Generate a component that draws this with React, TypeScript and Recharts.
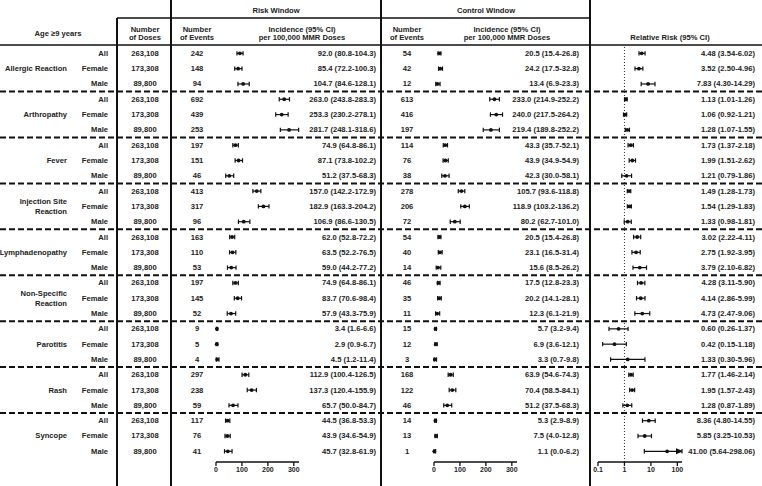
import React from 'react';
import { ScatterChart, Scatter, XAxis, YAxis, ErrorBar, ReferenceLine } from 'recharts';

// ---------- data ----------
const groupLabels: string[][] = [
  ['Allergic Reaction'],
  ['Arthropathy'],
  ['Fever'],
  ['Injection Site', 'Reaction'],
  ['Lymphadenopathy'],
  ['Non-Specific', 'Reaction'],
  ['Parotitis'],
  ['Rash'],
  ['Syncope'],
];
const sexLabels = ['All', 'Female', 'Male'];
const doses = [263108, 173308, 89800];

const riskEvents = [242, 148, 94, 692, 439, 253, 197, 151, 46, 413, 317, 96, 163, 110, 53, 197, 145, 52, 9, 5, 4, 297, 238, 59, 117, 76, 41];
const controlEvents = [54, 42, 12, 613, 416, 197, 114, 76, 38, 278, 206, 72, 54, 40, 14, 46, 35, 11, 15, 12, 3, 168, 122, 46, 14, 13, 1];

// [estimate, lower, upper] per 100,000 doses
const riskIncidence: number[][] = [
  [92.0, 80.8, 104.3], [85.4, 72.2, 100.3], [104.7, 84.6, 128.1],
  [263.0, 243.8, 283.3], [253.3, 230.2, 278.1], [281.7, 248.1, 318.6],
  [74.9, 64.8, 86.1], [87.1, 73.8, 102.2], [51.2, 37.5, 68.3],
  [157.0, 142.2, 172.9], [182.9, 163.3, 204.2], [106.9, 86.6, 130.5],
  [62.0, 52.8, 72.2], [63.5, 52.2, 76.5], [59.0, 44.2, 77.2],
  [74.9, 64.8, 86.1], [83.7, 70.6, 98.4], [57.9, 43.3, 75.9],
  [3.4, 1.6, 6.6], [2.9, 0.9, 6.7], [4.5, 1.2, 11.4],
  [112.9, 100.4, 126.5], [137.3, 120.4, 155.9], [65.7, 50.0, 84.7],
  [44.5, 36.8, 53.3], [43.9, 34.6, 54.9], [45.7, 32.8, 61.9],
];
const controlIncidence: number[][] = [
  [20.5, 15.4, 26.8], [24.2, 17.5, 32.8], [13.4, 6.9, 23.3],
  [233.0, 214.9, 252.2], [240.0, 217.5, 264.2], [219.4, 189.8, 252.2],
  [43.3, 35.7, 52.1], [43.9, 34.9, 54.9], [42.3, 30.0, 58.1],
  [105.7, 93.6, 118.8], [118.9, 103.2, 136.2], [80.2, 62.7, 101.0],
  [20.5, 15.4, 26.8], [23.1, 16.5, 31.4], [15.6, 8.5, 26.2],
  [17.5, 12.8, 23.3], [20.2, 14.1, 28.1], [12.3, 6.1, 21.9],
  [5.7, 3.2, 9.4], [6.9, 3.6, 12.1], [3.3, 0.7, 9.8],
  [63.9, 54.6, 74.3], [70.4, 58.5, 84.1], [51.2, 37.5, 68.3],
  [5.3, 2.9, 8.9], [7.5, 4.0, 12.8], [1.1, 0.0, 6.2],
];
const relativeRisk: number[][] = [
  [4.48, 3.54, 6.02], [3.52, 2.50, 4.96], [7.83, 4.30, 14.29],
  [1.13, 1.01, 1.26], [1.06, 0.92, 1.21], [1.28, 1.07, 1.55],
  [1.73, 1.37, 2.18], [1.99, 1.51, 2.62], [1.21, 0.79, 1.86],
  [1.49, 1.28, 1.73], [1.54, 1.29, 1.83], [1.33, 0.98, 1.81],
  [3.02, 2.22, 4.11], [2.75, 1.92, 3.95], [3.79, 2.10, 6.82],
  [4.28, 3.11, 5.90], [4.14, 2.86, 5.99], [4.73, 2.47, 9.06],
  [0.60, 0.26, 1.37], [0.42, 0.15, 1.18], [1.33, 0.30, 5.96],
  [1.77, 1.46, 2.14], [1.95, 1.57, 2.43], [1.28, 0.87, 1.89],
  [8.36, 4.80, 14.55], [5.85, 3.25, 10.53], [41.00, 5.64, 298.06],
];

const incidenceTicks = [0, 100, 200, 300];
const rrTicks = [0.1, 1, 10, 100];

// ---------- layout ----------
const W = 762;
const H = 486;
const PLOT_TOP = 45.7;
const PLOT_BOTTOM = 462;
const X_AXIS_H = 20;
const Y_MIN = -0.5;
const Y_MAX = 26.7;
const FONT = '"Liberation Sans", Arial, Helvetica, sans-serif';
const TXT = '#222';
const FS = 7.6;

const rowY = (i: number) => PLOT_TOP + ((i - Y_MIN) * (PLOT_BOTTOM - PLOT_TOP)) / (Y_MAX - Y_MIN);

const Dot = (p: any) => <circle cx={p.cx} cy={p.cy} r={1.9} fill="#111" />;
const Arrow = (p: any) => (
  <polygon points={`${p.cx + 1},${p.cy} ${p.cx - 6},${p.cy - 3} ${p.cx - 6},${p.cy + 3}`} fill="#111" />
);

type ForestProps = {
  left: number;
  right: number;
  domain: [number, number];
  ticks: number[];
  scale: 'linear' | 'log';
  rows: number[][];
  refLine?: boolean;
};

function Forest({ left, right, domain, ticks, scale, rows, refLine }: ForestProps) {
  const data = rows.map((r, i) => ({
    x: r[0],
    y: i,
    err: [r[0] - r[1], Math.min(r[2], domain[1]) - r[0]],
  }));
  const arrows = rows
    .map((r, i) => ({ x: domain[1], y: i, over: r[2] > domain[1] }))
    .filter((d) => d.over);
  return (
    <div style={{ position: 'absolute', left: 0, top: 0 }}>
      <ScatterChart
        width={W}
        height={H}
        margin={{ top: PLOT_TOP, right: W - right, bottom: H - PLOT_BOTTOM - X_AXIS_H, left }}
      >
        <XAxis
          type="number"
          dataKey="x"
          domain={domain}
          ticks={ticks}
          scale={scale}
          allowDataOverflow={scale === 'log'}
          interval={0}
          height={X_AXIS_H}
          tickSize={4}
          tickMargin={1}
          axisLine={{ stroke: '#111', strokeWidth: 1.3 }}
          tickLine={{ stroke: '#111', strokeWidth: 1.3 }}
          tick={{ fontSize: 7, fontWeight: 700, fill: TXT, fontFamily: FONT }}
        />
        <YAxis type="number" dataKey="y" domain={[Y_MIN, Y_MAX]} reversed hide />
        {refLine && <ReferenceLine x={1} stroke="#333" strokeWidth={1} strokeDasharray="1 2" />}
        <Scatter data={data} isAnimationActive={false} shape={Dot}>
          <ErrorBar dataKey="err" direction="x" width={2.2} stroke="#111" strokeWidth={1.2} isAnimationActive={false} />
        </Scatter>
        {arrows.length > 0 && <Scatter data={arrows} isAnimationActive={false} shape={Arrow} />}
      </ScatterChart>
    </div>
  );
}

const fmtCI = (r: number[], d: number) => `${r[0].toFixed(d)} (${r[1].toFixed(d)}-${r[2].toFixed(d)})`;

function Table() {
  const t = (x: number, y: number, s: string, anchor: 'start' | 'middle' | 'end' = 'middle', key?: string) => (
    <text key={key} x={x} y={y} textAnchor={anchor} dominantBaseline="central" fontFamily={FONT} fontSize={FS} fontWeight={700} fill={TXT}>
      {s}
    </text>
  );
  const els: React.ReactNode[] = [];
  // rows
  for (let i = 0; i < 27; i++) {
    const y = rowY(i);
    const s = i % 3;
    els.push(t(108, y, sexLabels[s], 'end', `sx${i}`));
    els.push(t(145, y, doses[s].toLocaleString('en-US'), 'middle', `d${i}`));
    els.push(t(197, y, String(riskEvents[i]), 'middle', `re${i}`));
    els.push(t(376, y, fmtCI(riskIncidence[i], 1), 'end', `ri${i}`));
    els.push(t(407, y, String(controlEvents[i]), 'middle', `ce${i}`));
    els.push(t(579, y, fmtCI(controlIncidence[i], 1), 'end', `ci${i}`));
    els.push(t(755, y, fmtCI(relativeRisk[i], 2), 'end', `rr${i}`));
  }
  groupLabels.forEach((lines, g) => {
    const yc = rowY(g * 3 + 1);
    if (lines.length === 1) els.push(t(67, yc, lines[0], 'end', `g${g}`));
    else {
      els.push(t(67, yc - 5.2, lines[0], 'end', `g${g}a`));
      els.push(t(67, yc + 5.2, lines[1], 'end', `g${g}b`));
    }
  });
  // separators
  const seps: React.ReactNode[] = [];
  for (let k = 1; k < groupLabels.length; k++) {
    const y = rowY(3 * k - 0.5);
    seps.push(<line key={`s${k}`} x1={0} x2={W} y1={y} y2={y} stroke="#111" strokeWidth={2} strokeDasharray="6 3" />);
  }
  return (
    <svg width={W} height={H} style={{ position: 'absolute', left: 0, top: 0 }}>
      {seps}
      <line x1={117} x2={117} y1={18} y2={H} stroke="#111" strokeWidth={2} />
      <line x1={171} x2={171} y1={0} y2={H} stroke="#111" strokeWidth={2} />
      <line x1={381} x2={381} y1={0} y2={H} stroke="#111" strokeWidth={2} />
      <line x1={590} x2={590} y1={0} y2={H} stroke="#111" strokeWidth={2} />
      <line x1={117} x2={590} y1={18} y2={18} stroke="#111" strokeWidth={1.6} />
      <line x1={0} x2={W} y1={45} y2={45} stroke="#111" strokeWidth={1.6} />
      {t(276, 10, 'Risk Window', 'middle', 'h1')}
      {t(486, 10, 'Control Window', 'middle', 'h2')}
      {t(58, 33, 'Age \u22659 years', 'middle', 'h3')}
      {t(145, 29, 'Number', 'middle', 'h4')}
      {t(145, 37.5, 'of Doses', 'middle', 'h5')}
      {t(197, 29, 'Number', 'middle', 'h6')}
      {t(197, 37.5, 'of Events', 'middle', 'h7')}
      {t(302, 29, 'Incidence (95% CI)', 'middle', 'h8')}
      {t(302, 37.5, 'per 100,000 MMR Doses', 'middle', 'h9')}
      {t(407, 29, 'Number', 'middle', 'h10')}
      {t(407, 37.5, 'of Events', 'middle', 'h11')}
      {t(507, 29, 'Incidence (95% CI)', 'middle', 'h12')}
      {t(507, 37.5, 'per 100,000 MMR Doses', 'middle', 'h13')}
      {t(670, 37.5, 'Relative Risk (95% CI)', 'middle', 'h14')}
      {els}
    </svg>
  );
}

export default function App() {
  return (
    <div style={{ position: 'absolute', left: 0, top: 0, width: W, height: H, background: '#fff', overflow: 'hidden' }}>
      <Table />
      <Forest left={216} right={299} domain={[0, 320]} ticks={incidenceTicks} scale="linear" rows={riskIncidence} />
      <Forest left={434} right={517} domain={[0, 320]} ticks={incidenceTicks} scale="linear" rows={controlIncidence} />
      <Forest left={598} right={682} domain={[0.1, 150]} ticks={rrTicks} scale="log" rows={relativeRisk} refLine />
    </div>
  );
}
